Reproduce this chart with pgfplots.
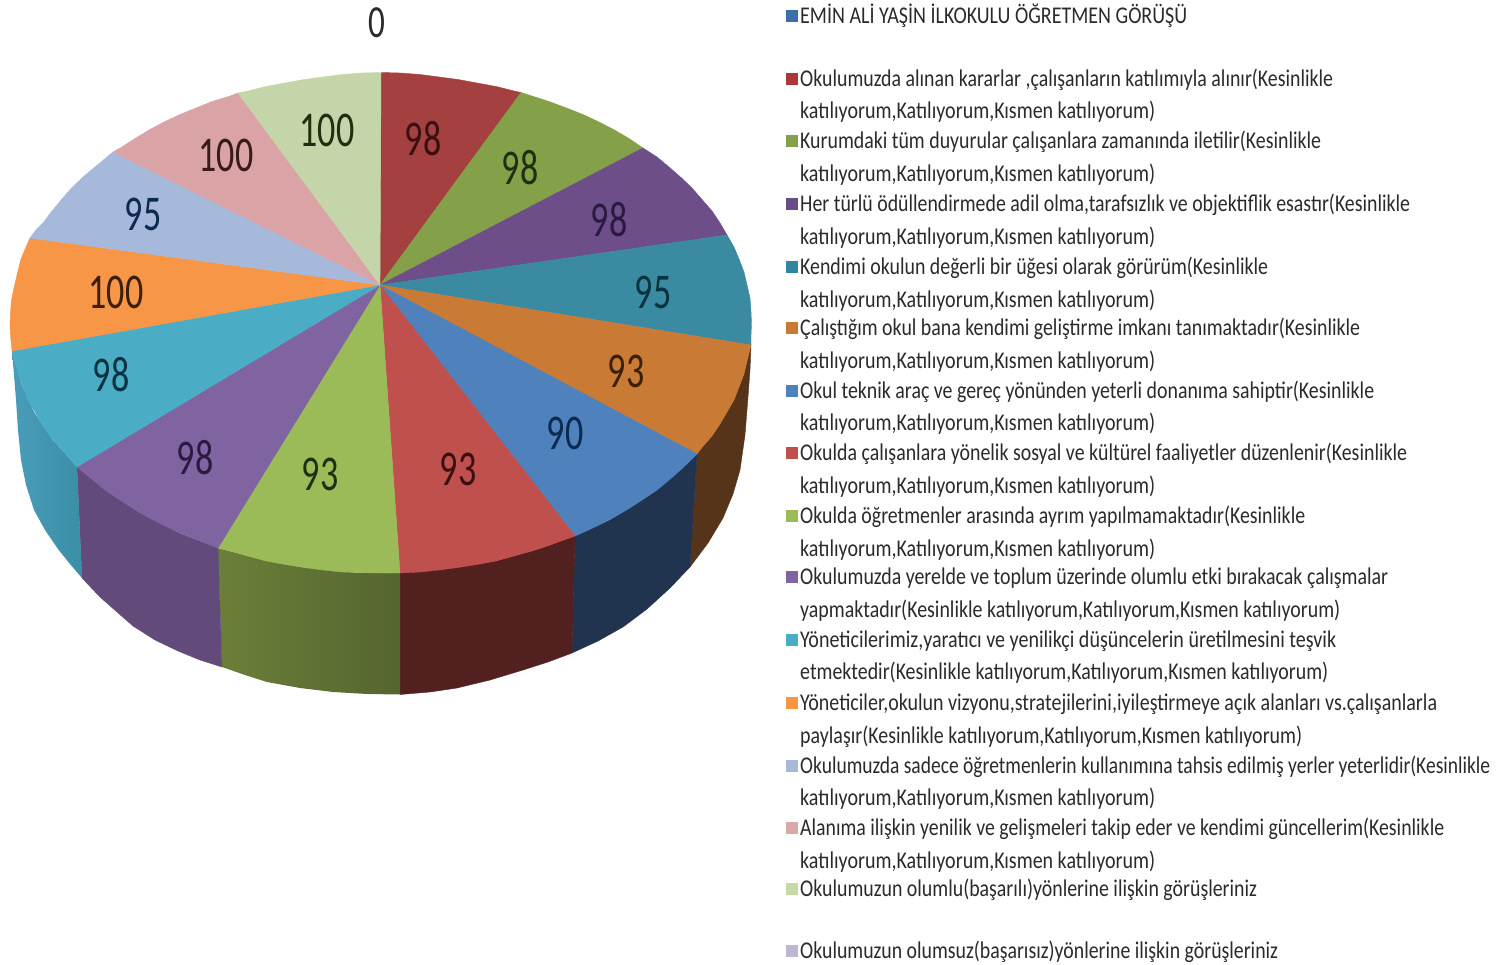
\documentclass[border=0pt]{standalone}
\usepackage{graphicx}
\usepackage{fontspec}
\setmainfont{Carlito}
\usepackage{pgfplots}
\pgfplotsset{compat=1.18}
\definecolor{txt}{HTML}{2A2A2A}
\definecolor{HTMLbrown}{HTML}{55341A}
\definecolor{HTMLnavy}{HTML}{20344F}
\definecolor{HTMLdred}{HTML}{52201F}
\definecolor{HTMLgrnA}{HTML}{6C7F39}
\definecolor{HTMLgrnB}{HTML}{55652F}
\definecolor{HTMLpurp}{HTML}{624A7B}
\definecolor{HTMLaquA}{HTML}{4A9DB8}
\definecolor{HTMLaquB}{HTML}{3A8EA6}
\definecolor{T1}{HTML}{A44040}
\definecolor{T2}{HTML}{84A048}
\definecolor{T3}{HTML}{6E4E88}
\definecolor{T4}{HTML}{3A8AA2}
\definecolor{T5}{HTML}{C97A35}
\definecolor{T6}{HTML}{4F81BD}
\definecolor{T7}{HTML}{C0504D}
\definecolor{T8}{HTML}{9BBB59}
\definecolor{T9}{HTML}{8064A2}
\definecolor{T10}{HTML}{4BACC6}
\definecolor{T11}{HTML}{F79646}
\definecolor{T12}{HTML}{A7B9DA}
\definecolor{T13}{HTML}{DAA4A6}
\definecolor{T14}{HTML}{C4D5A9}
\definecolor{L1}{HTML}{3A0F10}
\definecolor{L2}{HTML}{1F2F10}
\definecolor{L3}{HTML}{2A1A40}
\definecolor{L4}{HTML}{0A3340}
\definecolor{L5}{HTML}{3A2005}
\definecolor{L6}{HTML}{0A2A50}
\definecolor{L7}{HTML}{3A1A1A}
\definecolor{S0}{HTML}{3B6FA8}
\definecolor{S1}{HTML}{A8383A}
\definecolor{S2}{HTML}{84A04A}
\definecolor{S3}{HTML}{6A4C86}
\definecolor{S4}{HTML}{31859C}
\definecolor{S5}{HTML}{C77A33}
\definecolor{S6}{HTML}{4F81BD}
\definecolor{S7}{HTML}{C0504D}
\definecolor{S8}{HTML}{9BBB59}
\definecolor{S9}{HTML}{8064A2}
\definecolor{S10}{HTML}{4BACC6}
\definecolor{S11}{HTML}{F79646}
\definecolor{S12}{HTML}{A9B8D8}
\definecolor{S13}{HTML}{D9A8A8}
\definecolor{S14}{HTML}{C7D9A4}
\definecolor{S15}{HTML}{BDB5D2}
\newsavebox\legbox
\newcommand{\fit}[2]{\sbox\legbox{\fontsize{24}{24}\selectfont\color{txt}#2}\pgfmathsetmacro\legs{#1/\wd\legbox}\scalebox{\legs}[1]{\usebox\legbox}}
\newcommand{\legline}[3]{\node[anchor=base west,inner sep=0pt] at (axis cs:800,#1) {\pgfmathsetmacro\legw{#2-800}\fit{\legw}{#3}};}
\newcommand{\slice}[2]{\addplot[fill=#1,draw=#1,line width=0.4pt] coordinates {(380,285) #2} -- cycle;}
\newcommand{\side}[2]{\addplot[#1,line width=0.4pt] coordinates {#2} -- cycle;}
\newcommand{\lab}[4]{\addplot[draw=none,mark=none,point meta=explicit symbolic,
  nodes near coords={\scalebox{.72}[1]{\pgfplotspointmeta}},
  every node near coord/.style={anchor=center,inner sep=0pt,text=#4,font=\fontsize{50}{50}\selectfont}]
  coordinates {(#1,#2)[#3]};}
\newcommand{\sq}[2]{\addplot[only marks,mark=square*,mark size=5.5pt,color=#1,mark options={draw=#1,fill=#1}] coordinates {(792,#2)};}
\begin{document}
\begin{tikzpicture}
\begin{axis}[scale only axis,width=1497pt,height=965pt,xmin=0,xmax=1497,ymin=0,ymax=965,y dir=reverse,
  axis line style={draw=none},ticks=none,clip=false]
% side wall
\side{fill=HTMLbrown,draw=HTMLbrown}{(751,345) (750,370) (748,397) (745,435) (740,470) (733,494) (723,518) (708,543) (690,567) (697,454) (717,428) (734,400) (744,374)}
\side{fill=HTMLnavy,draw=HTMLnavy}{(697,454) (690,567) (670,588) (647,609) (623,627) (598,641) (572,653) (575,536) (610,520) (643,499) (673,477)}
\side{fill=HTMLdred,draw=HTMLdred}{(575,536) (572,653) (548,662) (523,670) (490,680) (457,688) (430,692) (400,694.5) (400,573) (446,569) (496,561) (538,549)}
\side{left color=HTMLgrnA,right color=HTMLgrnB,draw=none}{(400,573) (400,694.5) (367,694) (333,692) (300,688) (267,682) (245,675) (222,667) (218,548) (260,559) (304,567.5) (355,572.5)}
\side{fill=HTMLpurp,draw=HTMLpurp}{(218,548) (222,667) (200,660) (178,651) (155,640) (133,626) (117,612) (100,597) (82,578) (77,467) (105,490) (138,511.5) (179,533)}
\side{left color=HTMLaquA,right color=HTMLaquB,draw=none}{(77,467) (82,578) (70,564) (58,549) (45,530) (34,510) (26,485) (21,460) (18,430) (16,400) (14,375) (12,351) (21,383) (34,412) (53,440)}
% top face
\slice{T1}{(381,72.5) (400,73) (420,74.5) (439,77) (458,79.5) (477,83) (496,86.5) (514,91) (521,92.5)}
\slice{T2}{(521,92.5) (532,96) (549,101.5) (566.5,108) (583,114.5) (599,122) (614.5,130) (629,138.5) (643,148)}
\slice{T3}{(643,148) (657,157) (669,167) (681,177.5) (692,188) (702,199.5) (712,211) (720,223) (727,235)}
\slice{T4}{(727,235) (734,247) (739,259) (744,272) (747,285) (750,298) (751,311) (751.5,324) (751,335) (751,345)}
\slice{T5}{(751,345) (747,361) (744,374) (739,387) (734,400) (727,412) (720,424) (712,436) (702,447.5) (697,454)}
\slice{T6}{(697,454) (692,459) (681,469.5) (669,480) (657,490) (643,499.5) (629,508.5) (614.5,517) (599,525) (583,532.5) (575,536)}
\slice{T7}{(575,536) (566.5,539) (549,545.5) (532,551) (514,556) (496,561) (477,564.5) (458,567.5) (439,570) (420,572) (400,573)}
\slice{T8}{(400,573) (381,573) (362,572.7) (342,572) (323,570) (304,567.5) (285,564.5) (266,561) (248,556) (230,551) (218,548)}
\slice{T9}{(218,548) (212.5,546) (195.5,539) (179,532.5) (163,525) (147.5,517) (133,508.5) (119,499.5) (105,490) (93,480) (81,469.5) (77,467)}
\slice{T10}{(77,467) (70,459) (60,447.5) (50,436) (42,424) (35,412) (28,400) (23,387) (18,374) (15,361) (12,351)}
\slice{T11}{(12,351) (10.5,335) (10,325) (10.5,312) (11.5,300) (14,288) (17,275) (21,259) (26,247) (30,238)}
\slice{T12}{(30,238) (36,230) (43,223) (52,211) (62,199) (72,187.5) (83,177) (95,167) (107,157) (113,152)}
\slice{T13}{(113,152) (121,147.5) (135,138.5) (149,130) (164,122) (180,114.5) (196,108) (212,101.5) (230,96) (238,93)}
\slice{T14}{(238,93) (248,91) (266,86.5) (285,83) (304,79.5) (323,77) (342,74.5) (362,73) (381,72.5)}
% value labels
\lab{423}{139}{98}{L1}
\lab{520}{168}{98}{L2}
\lab{609}{220}{98}{L3}
\lab{653}{292}{95}{L4}
\lab{626}{371}{93}{L5}
\lab{565}{433}{90}{L6}
\lab{458}{469}{93}{L1}
\lab{320}{474}{93}{L2}
\lab{195}{458}{98}{L3}
\lab{111}{375}{98}{L4}
\lab{116}{292}{100}{L5}
\lab{143}{214}{95}{L6}
\lab{226}{155}{100}{L7}
\lab{327}{130}{100}{L2}
\node[anchor=center,inner sep=0pt,font=\fontsize{46}{46}\selectfont,text=txt] at (axis cs:377,23) {\scalebox{.72}[1]{0}};
% legend keys
\sq{S0}{16}
\sq{S1}{79}
\sq{S2}{141}
\sq{S3}{204}
\sq{S4}{267}
\sq{S5}{328}
\sq{S6}{391}
\sq{S7}{453}
\sq{S8}{516}
\sq{S9}{577}
\sq{S10}{640}
\sq{S11}{703}
\sq{S12}{766}
\sq{S13}{828}
\sq{S14}{889}
\sq{S15}{951}
% legend text
\legline{23.5}{1187}{EMİN ALİ YAŞİN İLKOKULU ÖĞRETMEN GÖRÜŞÜ}
\legline{86.5}{1333}{Okulumuzda alınan kararlar ,çalışanların katılımıyla alınır(Kesinlikle}
\legline{118.5}{1155}{katılıyorum,Katılıyorum,Kısmen katılıyorum)}
\legline{148.5}{1321}{Kurumdaki tüm duyurular çalışanlara zamanında iletilir(Kesinlikle}
\legline{181.5}{1155}{katılıyorum,Katılıyorum,Kısmen katılıyorum)}
\legline{211.5}{1410}{Her türlü ödüllendirmede adil olma,tarafsızlık ve objektiflik esastır(Kesinlikle}
\legline{244.5}{1155}{katılıyorum,Katılıyorum,Kısmen katılıyorum)}
\legline{274.5}{1268}{Kendimi okulun değerli bir üğesi olarak görürüm(Kesinlikle}
\legline{307.5}{1155}{katılıyorum,Katılıyorum,Kısmen katılıyorum)}
\legline{335.5}{1360}{Çalıştığım okul bana kendimi geliştirme imkanı tanımaktadır(Kesinlikle}
\legline{368.5}{1155}{katılıyorum,Katılıyorum,Kısmen katılıyorum)}
\legline{398.5}{1374}{Okul teknik araç ve gereç yönünden yeterli donanıma sahiptir(Kesinlikle}
\legline{430.5}{1155}{katılıyorum,Katılıyorum,Kısmen katılıyorum)}
\legline{460.5}{1407}{Okulda çalışanlara yönelik sosyal ve kültürel faaliyetler düzenlenir(Kesinlikle}
\legline{493.5}{1155}{katılıyorum,Katılıyorum,Kısmen katılıyorum)}
\legline{523.5}{1305}{Okulda öğretmenler arasında ayrım yapılmamaktadır(Kesinlikle}
\legline{556.5}{1155}{katılıyorum,Katılıyorum,Kısmen katılıyorum)}
\legline{584.5}{1388}{Okulumuzda yerelde ve toplum üzerinde olumlu etki bırakacak çalışmalar}
\legline{617.5}{1340}{yapmaktadır(Kesinlikle katılıyorum,Katılıyorum,Kısmen katılıyorum)}
\legline{647.5}{1336}{Yöneticilerimiz,yaratıcı ve yenilikçi düşüncelerin üretilmesini teşvik}
\legline{679.5}{1328}{etmektedir(Kesinlikle katılıyorum,Katılıyorum,Kısmen katılıyorum)}
\legline{710.5}{1437}{Yöneticiler,okulun vizyonu,stratejilerini,iyileştirmeye açık alanları vs.çalışanlarla}
\legline{743.5}{1302}{paylaşır(Kesinlikle katılıyorum,Katılıyorum,Kısmen katılıyorum)}
\legline{773.5}{1490}{Okulumuzda sadece öğretmenlerin kullanımına tahsis edilmiş yerler yeterlidir(Kesinlikle}
\legline{805.5}{1155}{katılıyorum,Katılıyorum,Kısmen katılıyorum)}
\legline{835.5}{1444}{Alanıma ilişkin yenilik ve gelişmeleri takip eder ve kendimi güncellerim(Kesinlikle}
\legline{868.5}{1155}{katılıyorum,Katılıyorum,Kısmen katılıyorum)}
\legline{896.5}{1257}{Okulumuzun olumlu(başarılı)yönlerine ilişkin görüşleriniz}
\legline{958.5}{1278}{Okulumuzun olumsuz(başarısız)yönlerine ilişkin görüşleriniz}
\end{axis}
\end{tikzpicture}
\end{document}
